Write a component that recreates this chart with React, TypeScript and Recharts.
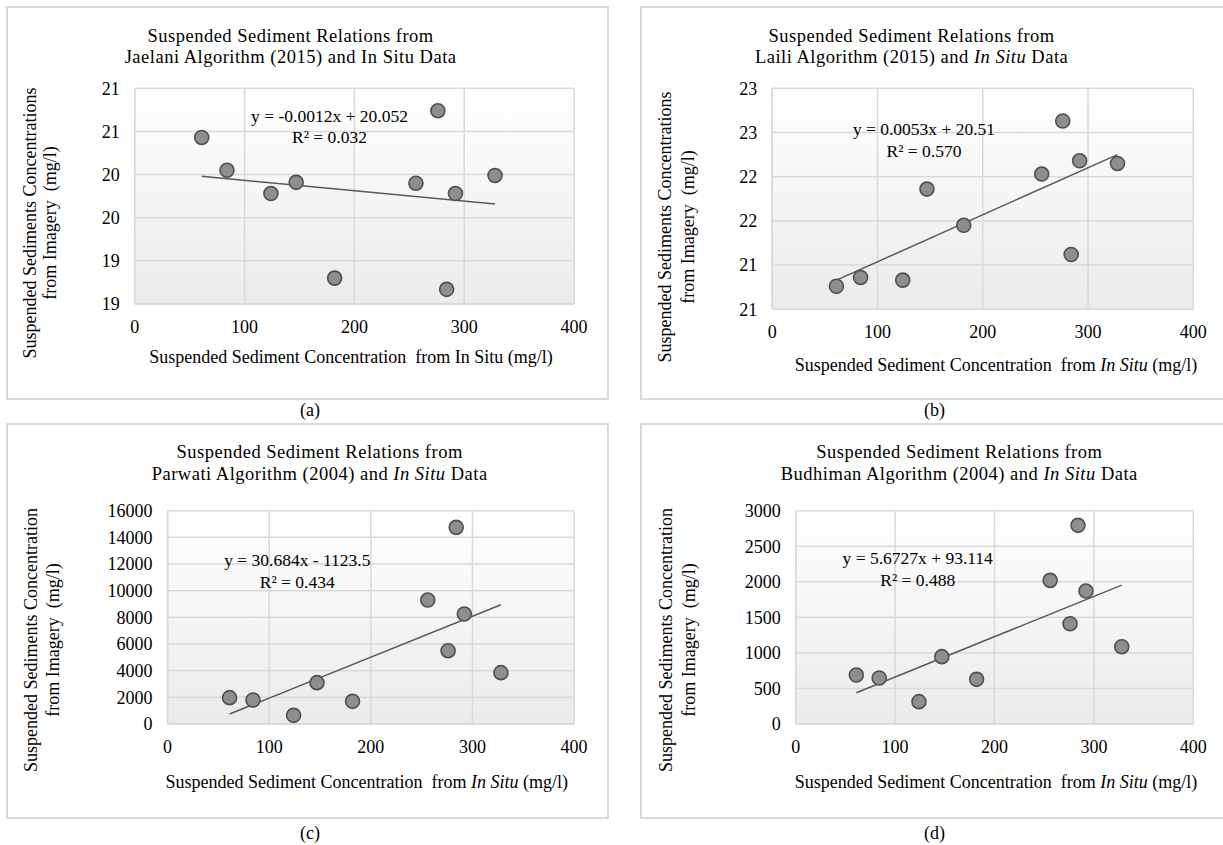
import React from 'react';
import { ScatterChart, Scatter, XAxis, YAxis, CartesianGrid, ReferenceLine } from 'recharts';

// In situ concentrations (x, mg/l), shared by all four panels
const inSitu = [61, 84, 124, 147, 182, 256, 276, 284, 292, 328];
// Imagery concentrations (y) per algorithm
const jaelani = [20.43, 20.05, 19.78, 19.91, 18.8, 19.9, 20.74, 18.67, 19.78, 19.99];
const laili = [20.76, 20.86, 20.83, 21.86, 21.45, 22.03, 22.63, 21.12, 22.18, 22.15];
const parwati = [1975, 1800, 650, 3100, 1700, 9300, 5500, 14750, 8250, 3850];
const budhiman = [689, 647, 314, 947, 628, 2020, 1411, 2794, 1870, 1087];

// Trendline end points (x from min to max in situ value)
const trendX = [61, 328];
const trendJaelani = [19.98, 19.66];
const trendLaili = [20.83, 22.25];
const trendParwati = [748, 8940];
const trendBudhiman = [439, 1954];

// Axis ticks
const xTicks = [0, 100, 200, 300, 400];
const yTicksJaelani = [18.5, 19, 19.5, 20, 20.5, 21];
const yTicksLaili = [20.5, 21, 21.5, 22, 22.5, 23];
const yTicksParwati = [0, 2000, 4000, 6000, 8000, 10000, 12000, 14000, 16000];
const yTicksBudhiman = [0, 500, 1000, 1500, 2000, 2500, 3000];

// Equation labels
const eqJaelani = ['y = -0.0012x  + 20.052', 'R² = 0.032'];
const eqLaili = ['y = 0.0053x  + 20.51', 'R² = 0.570'];
const eqParwati = ['y = 30.684x  - 1123.5', 'R² = 0.434'];
const eqBudhiman = ['y = 5.6727x  + 93.114', 'R² = 0.488'];

const FONT = '"Liberation Serif", "Times New Roman", serif';
const GRID = '#d9d9d9';
const YW = 60;
const XH = 40;

type Box = { l: number; t: number; w: number; h: number };
type Plot = { l: number; t: number; r: number; b: number };

function PanelChart(props: {
  id: string;
  box: Box;
  plot: Plot;
  ys: number[];
  trend: number[];
  yTicks: number[];
  round: boolean;
}) {
  const { id, box, plot, ys, trend, yTicks, round } = props;
  const data = inSitu.map((x, i) => ({ x, y: ys[i] }));
  const margin = {
    top: plot.t - box.t,
    left: plot.l - box.l - YW,
    right: box.l + box.w - plot.r,
    bottom: box.t + box.h - plot.b - XH,
  };
  const tickStyle = { fill: '#000', fontSize: 18, fontFamily: FONT };
  return (
    <div style={{ position: 'absolute', left: box.l, top: box.t }}>
      <ScatterChart width={box.w} height={box.h} margin={margin}>
        <defs>
          <linearGradient id={id} x1="0" y1="0" x2="0" y2="1">
            <stop offset="0%" stopColor="#ffffff" />
            <stop offset="100%" stopColor="#ebebeb" />
          </linearGradient>
        </defs>
        <CartesianGrid stroke={GRID} strokeWidth={1.5} fill={`url(#${id})`} fillOpacity={1} />
        <XAxis
          type="number"
          dataKey="x"
          domain={[0, 400]}
          ticks={xTicks}
          height={XH}
          axisLine={{ stroke: GRID, strokeWidth: 1.5 }}
          tickLine={false}
          tickSize={0}
          tickMargin={16}
          tick={tickStyle}
          interval={0}
        />
        <YAxis
          type="number"
          dataKey="y"
          domain={[yTicks[0], yTicks[yTicks.length - 1]]}
          ticks={yTicks}
          width={YW}
          axisLine={{ stroke: GRID, strokeWidth: 1.5 }}
          tickLine={false}
          tickSize={0}
          tickMargin={15}
          tick={tickStyle}
          interval={0}
          tickFormatter={(v: number) => (round ? String(Math.round(v)) : String(v))}
        />
        <ReferenceLine
          segment={[
            { x: trendX[0], y: trend[0] },
            { x: trendX[1], y: trend[1] },
          ]}
          stroke="#595959"
          strokeWidth={1.5}
          ifOverflow="visible"
        />
        <Scatter
          data={data}
          isAnimationActive={false}
          shape={(p: any) => (
            <circle cx={p.cx} cy={p.cy} r={7} fill="#8e8e8e" stroke="#4f4f4f" strokeWidth={1.6} />
          )}
        />
      </ScatterChart>
    </div>
  );
}

function Txt(props: { x: number; y: number; size?: number; ls?: number; lh?: number; children: React.ReactNode; rotate?: boolean }) {
  const { x, y, size = 18, ls = 0, lh, children, rotate } = props;
  return (
    <div
      style={{
        position: 'absolute',
        left: x,
        top: y,
        transform: `translate(-50%, -50%)${rotate ? ' rotate(-90deg)' : ''}`,
        fontFamily: FONT,
        fontSize: size,
        letterSpacing: ls,
        lineHeight: lh ? `${lh}px` : 'normal',
        whiteSpace: 'nowrap',
        textAlign: 'center',
        color: '#000',
      }}
    >
      {children}
    </div>
  );
}

function Border(props: { l: number; t: number; w: number; h: number }) {
  return (
    <div
      style={{
        position: 'absolute',
        left: props.l,
        top: props.t,
        width: props.w,
        height: props.h,
        border: `2px solid ${GRID}`,
        boxSizing: 'border-box',
      }}
    />
  );
}

const I = (s: string) => <i>{s}</i>;

export default function App() {
  return (
    <div
      style={{
        position: 'absolute',
        left: 0,
        top: 0,
        width: 1223,
        height: 845,
        overflow: 'hidden',
        background: '#fff',
      }}
    >
      <Border l={5.7} t={6.3} w={603} h={393.7} />
      <Border l={639.7} t={6.3} w={600} h={393.7} />
      <Border l={5.7} t={423.3} w={603} h={395.4} />
      <Border l={639.7} t={423.3} w={600} h={395.4} />

      <PanelChart id="ga" box={{ l: 8, t: 8, w: 598, h: 390 }} plot={{ l: 134.7, t: 88.3, r: 574.1, b: 304 }} ys={jaelani} trend={trendJaelani} yTicks={yTicksJaelani} round />
      <PanelChart id="gb" box={{ l: 642, t: 8, w: 580, h: 390 }} plot={{ l: 772.2, t: 88.3, r: 1193.3, b: 309.3 }} ys={laili} trend={trendLaili} yTicks={yTicksLaili} round />
      <PanelChart id="gc" box={{ l: 8, t: 425, w: 598, h: 392 }} plot={{ l: 167.6, t: 510.7, r: 574.1, b: 724 }} ys={parwati} trend={trendParwati} yTicks={yTicksParwati} round={false} />
      <PanelChart id="gd" box={{ l: 642, t: 425, w: 580, h: 392 }} plot={{ l: 795.7, t: 510.7, r: 1193.3, b: 724 }} ys={budhiman} trend={trendBudhiman} yTicks={yTicksBudhiman} round={false} />

      {/* Titles */}
      <Txt x={290.6} y={47.5} size={18.5} ls={0.5} lh={21.6}>
        Suspended Sediment Relations from<br />Jaelani Algorithm (2015) and In Situ Data
      </Txt>
      <Txt x={911.6} y={47.5} size={18.5} ls={0.5} lh={21.6}>
        Suspended Sediment Relations from<br />Laili Algorithm (2015) and {I('In Situ')} Data
      </Txt>
      <Txt x={319.7} y={464.2} size={18.5} ls={0.5} lh={21.6}>
        Suspended Sediment Relations from<br />Parwati Algorithm (2004) and {I('In Situ')} Data
      </Txt>
      <Txt x={959.3} y={464.2} size={18.5} ls={0.5} lh={21.6}>
        Suspended Sediment Relations from<br />Budhiman Algorithm (2004) and {I('In Situ')} Data
      </Txt>

      {/* Y-axis titles */}
      <Txt x={40.2} y={223} rotate lh={19.5}>
        Suspended Sediments Concentrations<br />from Imagery&nbsp; (mg/l)
      </Txt>
      <Txt x={676.5} y={227} rotate lh={23}>
        Suspended Sediments Concentrations<br />from Imagery&nbsp; (mg/l)
      </Txt>
      <Txt x={42.7} y={640} rotate lh={21.8}>
        Suspended Sediments Concentration<br />from Imagery&nbsp; (mg/l)
      </Txt>
      <Txt x={678.4} y={640} rotate lh={23}>
        Suspended Sediments Concentration<br />from Imagery&nbsp; (mg/l)
      </Txt>

      {/* X-axis titles */}
      <Txt x={351} y={356.7}>Suspended Sediment Concentration&nbsp; from In Situ (mg/l)</Txt>
      <Txt x={996} y={365}>Suspended Sediment Concentration&nbsp; from {I('In Situ')} (mg/l)</Txt>
      <Txt x={366.8} y={781.7}>Suspended Sediment Concentration&nbsp; from {I('In Situ')} (mg/l)</Txt>
      <Txt x={996} y={781.7}>Suspended Sediment Concentration&nbsp; from {I('In Situ')} (mg/l)</Txt>

      {/* Equations */}
      <Txt x={329.5} y={127.5} size={17.5} lh={21.6}>{eqJaelani[0]}<br />{eqJaelani[1]}</Txt>
      <Txt x={924} y={141} size={17.5} lh={21.6}>{eqLaili[0]}<br />{eqLaili[1]}</Txt>
      <Txt x={297.3} y={570.5} size={17.5} lh={22}>{eqParwati[0]}<br />{eqParwati[1]}</Txt>
      <Txt x={917.7} y={569.7} size={17.5} lh={22.6}>{eqBudhiman[0]}<br />{eqBudhiman[1]}</Txt>

      {/* Captions */}
      <Txt x={310} y={410}>(a)</Txt>
      <Txt x={934.5} y={410}>(b)</Txt>
      <Txt x={310} y={833}>(c)</Txt>
      <Txt x={934.5} y={833}>(d)</Txt>
    </div>
  );
}
